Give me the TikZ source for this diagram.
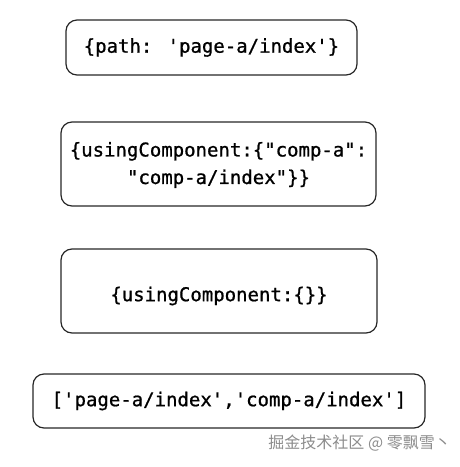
\documentclass[tikz,border=0pt]{standalone}
\usepackage{fontspec}
\newfontfamily\codefont[FakeBold=0.9]{DejaVu Sans Mono}
\newfontfamily\cjk{Noto Sans CJK SC}
\begin{document}
\begin{tikzpicture}[x=1pt,y=-1pt,
  card/.style={draw=black!85,line width=1.2pt,rounded corners=11pt},
  code/.style={font=\codefont\fontsize{19}{27.5}\selectfont,align=center,inner sep=0pt}]
\useasboundingbox (0,0) rectangle (459,467);
\draw[card] (66,20) rectangle (357,75);
\node[code] (t1) at (211.5,47.5) {\{path: 'page-a/index'\}};
\draw[card] (61,122) rectangle (376,206);
\node[code] (t2) at (218.5,165) {\{usingComponent:\{"comp-a":\\"comp-a/index"\}\}};
\draw[card] (61,249) rectangle (377,333);
\node[code] (t3) at (219,296) {\{usingComponent:\{\}\}};
\draw[card] (33,374) rectangle (425,428);
\node[code] (t4) at (229,401) {['page-a/index','comp-a/index']};
\node[font=\cjk\fontsize{16}{18}\selectfont,text=black!45,anchor=east,inner sep=0pt] (wm) at (451,443) {掘金技术社区 @ 零飘雪丶};
\end{tikzpicture}
\end{document}
